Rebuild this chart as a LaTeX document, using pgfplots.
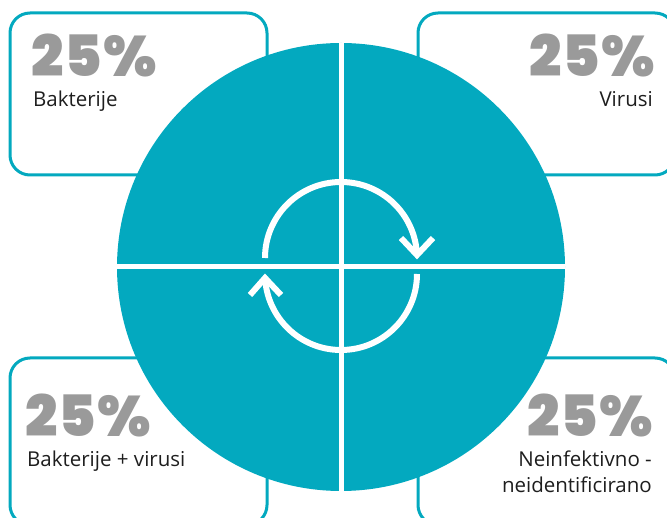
\documentclass[border=0pt]{standalone}
\usepackage{pgfplots}
\pgfplotsset{compat=1.18}
\usepackage{pgfplotstable}
\usepackage{fontspec}
\setmainfont{Open Sans}
\newfontfamily\numfont{Poppins Black}[LetterSpace=2]
\definecolor{pie}{HTML}{03A9BF}
\definecolor{numgray}{HTML}{9A9A9A}
\definecolor{txt}{HTML}{1E1E1E}
% share of each category (percent) -> angle = 3.6*pct
\pgfplotstableread{
pct
25
25
25
25
}\pietable
\begin{document}
\begin{tikzpicture}
\begin{axis}[hide axis, scale only axis, width=667pt, height=517pt,
  xmin=0, xmax=667, ymin=0, ymax=517, clip=true]
% boxes
\draw[pie, line width=3pt, rounded corners=20pt] (10,342) rectangle (267,504);
\draw[pie, line width=3pt, rounded corners=20pt] (418,342) rectangle (675,504);
\draw[pie, line width=3pt, rounded corners=20pt] (10,-8) rectangle (267,159);
\draw[pie, line width=3pt, rounded corners=20pt] (418,-8) rectangle (675,159);
% pie wedges: Bakterije, Virusi, Neinfektivno, Bakterije + virusi (each 25% = 90 deg)
\fill[pie] (341,250) -- ++(180:224pt) arc[start angle=180, end angle=90, radius=224pt] -- cycle;
\fill[pie] (341,250) -- ++(90:224pt) arc[start angle=90, end angle=0, radius=224pt] -- cycle;
\fill[pie] (341,250) -- ++(0:224pt) arc[start angle=0, end angle=-90, radius=224pt] -- cycle;
\fill[pie] (341,250) -- ++(-90:224pt) arc[start angle=-90, end angle=-180, radius=224pt] -- cycle;
% separators
\draw[white, line width=5pt] (117,250) -- (565,250);
\draw[white, line width=5pt] (341,26) -- (341,474);
% cycle arrows
\draw[white, line width=6pt] (265,259) arc[start angle=180, end angle=2, radius=76pt];
\draw[white, line width=6pt, line join=miter] (401,279) -- (417,262) -- (433,279);
\draw[white, line width=6pt] (417,243) arc[start angle=0, end angle=-178, radius=76pt];
\draw[white, line width=6pt, line join=miter] (250,222) -- (265,239) -- (281,222);
% texts
\tikzset{num/.style={inner sep=0pt, text height=40pt, text depth=0pt, text=numgray, font=\numfont\fontsize{57}{58}\selectfont},
         lab/.style={inner sep=0pt, text height=15pt, text depth=4pt, text=txt, font=\fontsize{20.5}{24}\selectfont}}
\node[num, anchor=base west] at (31,440) {25\%};
\node[lab, anchor=base west] at (33,410) {Bakterije};
\node[num, anchor=base east] at (655,440) {25\%};
\node[lab, anchor=base east] at (653,410) {Virusi};
\node[num, anchor=base west] at (25,80) {25\%};
\node[lab, anchor=base west] at (27,50) {Bakterije + virusi};
\node[num, anchor=base east] at (653,80) {25\%};
\node[lab, anchor=base east] at (652,50) {Neinfektivno -};
\node[lab, anchor=base east] at (652,24) {neidentificirano};
\end{axis}
\pgfresetboundingbox
\path[use as bounding box] (current axis.south west) rectangle (current axis.north east);
\end{tikzpicture}
\end{document}
